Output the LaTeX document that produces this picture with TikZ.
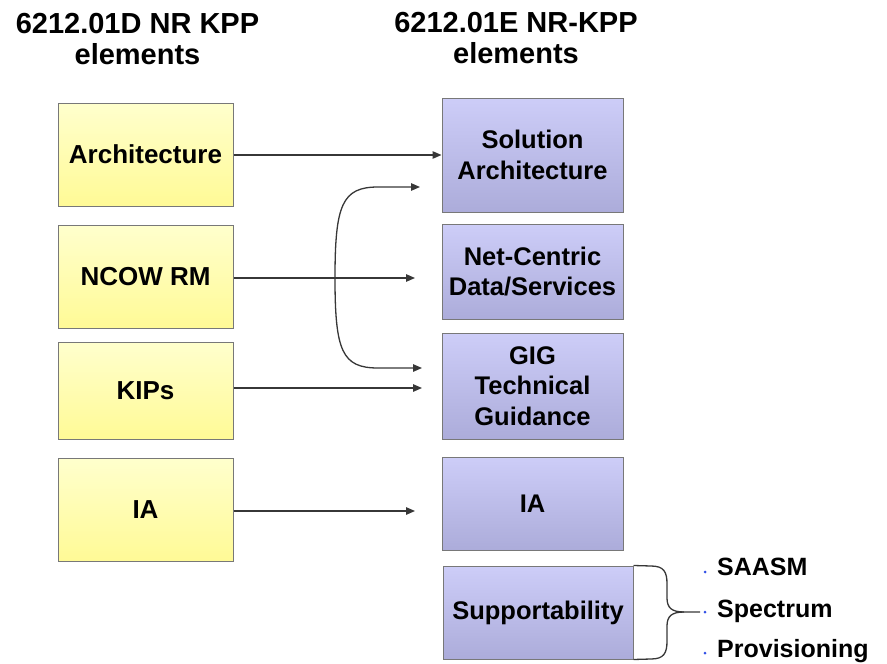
\documentclass[tikz,border=0pt]{standalone}
\usepackage{fontspec}
\setmainfont{Liberation Sans}
\usetikzlibrary{arrows.meta}

\definecolor{oldtop}{RGB}{255,255,205}
\definecolor{oldbot}{RGB}{255,250,150}
\definecolor{newtop}{RGB}{205,205,248}
\definecolor{newbot}{RGB}{172,172,218}
\definecolor{boxline}{RGB}{120,120,120}
\definecolor{linkline}{RGB}{55,55,55}
\definecolor{bulletblue}{RGB}{50,80,230}

\tikzset{
  oldbox/.style={draw=boxline, line width=1pt, top color=oldtop, bottom color=oldbot,
    minimum width=175pt, align=center, inner sep=0pt,
    font=\bfseries\fontsize{26}{30}\selectfont},
  newbox/.style={draw=boxline, line width=1pt, top color=newtop, bottom color=newbot,
    minimum width=181pt, align=center, inner sep=0pt,
    font=\bfseries\fontsize{25.5}{30.5}\selectfont},
  heading/.style={align=center, inner sep=0pt, anchor=base,
    font=\bfseries\fontsize{29}{31}\selectfont},
  link/.style={draw=linkline, line width=1.3pt, -{Triangle[length=9pt,width=7.5pt]}},
  brace/.style={draw=linkline, line width=1.3pt},
  item/.style={anchor=base west, inner sep=0pt, font=\bfseries\fontsize{25}{30}\selectfont},
  dot/.style={circle, fill=bulletblue, inner sep=0pt, minimum size=3pt}
}

\begin{document}
\begin{tikzpicture}[x=1pt,y=-1pt]
\useasboundingbox (0,0) rectangle (887,664);

% column headings (anchored on the baseline of the last line)
\node[heading] (hold) at (137.5,64) {6212.01D NR KPP\\elements};
\node[heading] (hnew) at (516,63) {6212.01E NR-KPP\\elements};

% 6212.01D elements
\node[oldbox, minimum height=103pt] (arch) at (145.5,154.5) {Architecture};
\node[oldbox, minimum height=103pt] (ncow) at (145.5,276.5) {NCOW RM};
\node[oldbox, minimum height=97pt]  (kips) at (145.5,390.5) {KIPs};
\node[oldbox, minimum height=103pt] (iaold) at (145.5,509.5) {IA};

% 6212.01E elements
\node[newbox, minimum height=114pt] (sol) at (532.5,155) {Solution\\Architecture};
\node[newbox, minimum height=95pt]  (ncd) at (532.5,271.5) {Net-Centric\\Data/Services};
\node[newbox, minimum height=106pt] (gig) at (532.5,386) {GIG\\Technical\\Guidance};
\node[newbox, minimum height=93pt]  (ianew) at (532.5,503.5) {IA};
\node[newbox, minimum height=93pt, minimum width=190pt] (supp) at (538,612.5) {Supportability};

% free arrow ends
\coordinate (ncowtip) at (415,278);
\coordinate (split) at (335,278);
\coordinate (uptip) at (420,187);
\coordinate (downtip) at (422,368);
\coordinate (kipstip) at (422,388);
\coordinate (iatip) at (415,511);

% mappings
\draw[link] (arch.east |- sol.west) -- (sol.west);
\draw[link] (ncow.east |- ncowtip) -- (ncowtip);
\draw[link] (split) .. controls (335,205) and (342,187) .. (378,187) -- (uptip);
\draw[link] (split) .. controls (335,351) and (342,368) .. (378,368) -- (downtip);
\draw[link] (kips.east |- kipstip) -- (kipstip);
\draw[link] (iaold.east |- iatip) -- (iatip);

% supportability sub-elements
\coordinate (bracetip) at (700,612);
\draw[brace] (supp.north east) -- (651,566)
  .. controls (664,566) and (667,572) .. (667,584) -- (667,598)
  .. controls (667,608) and (672,612) .. (684,612) -- (bracetip);
\draw[brace] (supp.south east) -- (651,659)
  .. controls (664,659) and (667,653) .. (667,641) -- (667,626)
  .. controls (667,616) and (672,612) .. (684,612);

\node[dot] (d1) at (705,572) {};
\node[dot] (d2) at (705,612) {};
\node[dot] (d3) at (705,653) {};
\node[item] (saasm) at (717,575) {SAASM};
\node[item] (spec) at (717,617) {Spectrum};
\node[item] (prov) at (717,657) {Provisioning};
\end{tikzpicture}
\end{document}
